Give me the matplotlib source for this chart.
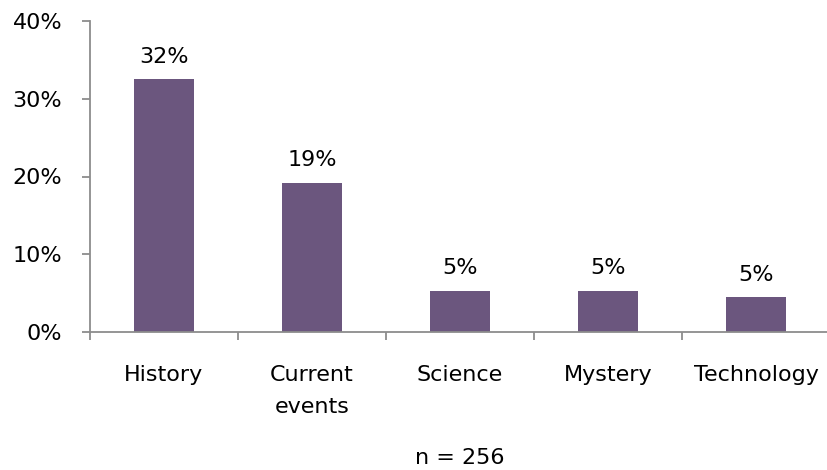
import matplotlib
matplotlib.use('Agg')
import matplotlib.pyplot as plt
from matplotlib.ticker import FuncFormatter, FixedLocator

# survey data
categories = ['History', 'Current\nevents', 'Science', 'Mystery', 'Technology']
shares = [32.5, 19.2, 5.3, 5.3, 4.5]
labels = ['32%', '19%', '5%', '5%', '5%']
n_text = 'n = 256'

bar_color = '#6b567e'
axis_color = '#8c8c8c'

plt.rcParams['font.family'] = ['DejaVu Sans']

fig = plt.figure(figsize=(8.27, 4.70), dpi=100)
ax = fig.add_axes([90 / 827, (470 - 332) / 470, 740 / 827, 311 / 470])

x = list(range(len(categories)))
bars = ax.bar(x, shares, width=0.4, color=bar_color)

for b, lab in zip(bars, labels):
    ax.annotate(lab, (b.get_x() + b.get_width() / 2, b.get_height()),
                xytext=(0, 9), textcoords='offset points',
                ha='center', va='bottom', fontsize=16)

ax.set_xlim(-0.5, len(categories) - 0.5)
ax.set_ylim(0, 40)
ax.set_yticks([0, 10, 20, 30, 40])
ax.yaxis.set_major_formatter(FuncFormatter(lambda v, p: '%d%%' % v))

ax.set_xticks(x)
ax.set_xticklabels(categories, fontsize=16, linespacing=1.7)
ax.xaxis.set_minor_locator(FixedLocator([i - 0.5 for i in range(len(categories) + 1)]))
ax.tick_params(axis='x', which='major', length=0, pad=24)
ax.tick_params(axis='x', which='minor', length=6, width=1.3, color=axis_color, direction='out')
ax.tick_params(axis='y', length=6, width=1.3, color=axis_color, direction='out', labelsize=16, pad=14)

for s in ['top', 'right']:
    ax.spines[s].set_visible(False)
for s in ['left', 'bottom']:
    ax.spines[s].set_color(axis_color)
    ax.spines[s].set_linewidth(1.3)

fig.text(460 / 827, 1 - 458 / 470, n_text, ha='center', va='center', fontsize=16)

fig.savefig('out.png', dpi=100)
